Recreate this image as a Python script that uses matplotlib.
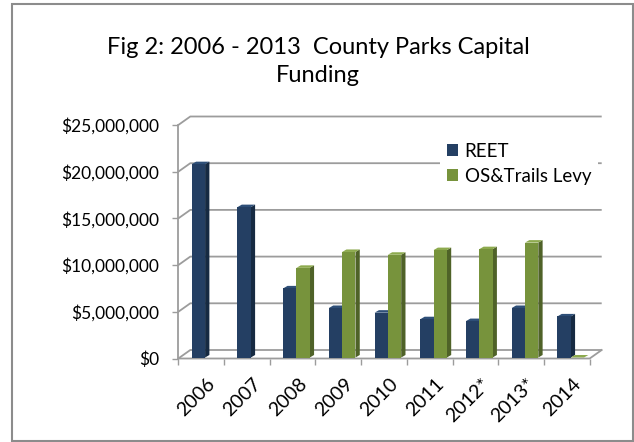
import matplotlib
matplotlib.use("Agg")
import matplotlib.pyplot as plt
from matplotlib.patches import Rectangle, Polygon, Patch

plt.rcParams["font.family"] = ["Lato", "DejaVu Sans"]

years = ["2006", "2007", "2008", "2009", "2010", "2011", "2012*", "2013*", "2014"]
reet = [20.7e6, 16.1e6, 7.4e6, 5.3e6, 4.8e6, 4.1e6, 3.9e6, 5.3e6, 4.4e6]
levy = [None, None, 9.6e6, 11.3e6, 11.0e6, 11.5e6, 11.6e6, 12.3e6, 0]
yticks = [0, 5e6, 10e6, 15e6, 20e6, 25e6]
ylabels = ["$0", "$5,000,000", "$10,000,000", "$15,000,000", "$20,000,000", "$25,000,000"]

W, H = 634, 442
fig = plt.figure(figsize=(W / 100, H / 100), dpi=100)
fig.patch.set_facecolor("white")

# front plane of the 3d box, in pixels
x0, x1, y0, y1 = 178.3, 589.7, 358.5, 125
ax = fig.add_axes([x0 / W, 1 - y0 / H, (x1 - x0) / W, (y0 - y1) / H])
ax.set_xlim(0, 9)
ax.set_ylim(0, 25e6)
ax.patch.set_alpha(0)

pxx = (x1 - x0) / 9          # pixels per category
pxy = (y0 - y1) / 25e6       # pixels per dollar
bdx, bdy = 12 / pxx, 8.5 / pxy     # depth of the back wall
grey = "#9c9c9c"

# back wall gridlines and side diagonals
for v in yticks:
    ax.plot([0, bdx, 9 + bdx], [v, v + bdy, v + bdy], color=grey, lw=1.3,
            clip_on=False, zorder=1, solid_capstyle="butt")
# floor front edge, right diagonal, front y axis
ax.plot([0, 9, 9 + bdx], [0, 0, bdy], color=grey, lw=1.3, clip_on=False, zorder=1)
ax.plot([0, 0], [0, 25e6], color=grey, lw=1.3, clip_on=False, zorder=1)

# bars with a bit of depth
bw = 13.3 / pxx
sdx, sdy = 4.3 / pxx, 2.5 / pxy
oy = 1.0 / pxy
series = [(reet, -0.205, "#243F63", "#162A42", "#2E4F78"),
          (levy, 0.085, "#77933C", "#4F6228", "#8DAA4E")]
for vals, off, cf, cs, ct in series:
    for i, v in enumerate(vals):
        if v is None:
            continue
        left = i + 0.5 + off
        b = oy
        t = oy + v
        ax.add_patch(Polygon([(left + bw, b), (left + bw + sdx, b + sdy),
                              (left + bw + sdx, t + sdy), (left + bw, t)],
                             closed=True, fc=cs, ec="none", zorder=3, clip_on=False))
        ax.add_patch(Polygon([(left, t), (left + sdx, t + sdy),
                              (left + bw + sdx, t + sdy), (left + bw, t)],
                             closed=True, fc=ct, ec="none", zorder=3, clip_on=False))
        ax.add_patch(Rectangle((left, b), bw, v, fc=cf, ec="none", zorder=4, clip_on=False))

for s in ax.spines.values():
    s.set_visible(False)

ax.set_yticks(yticks)
ax.set_yticklabels(ylabels, fontsize=12.5)
ax.tick_params(axis="y", length=4.3, width=1, color=grey, pad=9.5)

ax.set_xticks(range(10), minor=True)
ax.set_xticks([])
ax.tick_params(axis="x", which="minor", length=4.5, width=1, color=grey)
for i, lab in enumerate(years):
    ax.text(i + 0.5 + 0.12, -1.75e6, lab, rotation=45, ha="right", va="top",
            rotation_mode="anchor", fontsize=14)

handles = [Patch(fc="#243F63", label="REET"), Patch(fc="#77933C", label="OS&Trails Levy")]
leg = ax.legend(handles=handles, loc="upper left", bbox_to_anchor=(440 / W, 1 - 136 / H),
                bbox_transform=fig.transFigure, frameon=True, fancybox=False,
                framealpha=1, fontsize=13.5, handlelength=0.62, handleheight=0.62,
                handletextpad=0.35, labelspacing=0.45, borderpad=0.35, borderaxespad=0)
leg.get_frame().set_edgecolor("none")
leg.get_frame().set_facecolor("white")
leg.set_zorder(5)

fig.text(318 / W, 1 - 47 / H, "Fig 2: 2006 - 2013  County Parks Capital", ha="center",
         va="center", fontsize=17)
fig.text(318 / W, 1 - 76 / H, "Funding", ha="center", va="center", fontsize=17)

fig.patches.append(Rectangle((11.5 / W, 1 / H), 621 / W, 437 / H, transform=fig.transFigure,
                             fill=False, ec="#8c8c8c", lw=1.5))

fig.savefig("out.png", dpi=100)
